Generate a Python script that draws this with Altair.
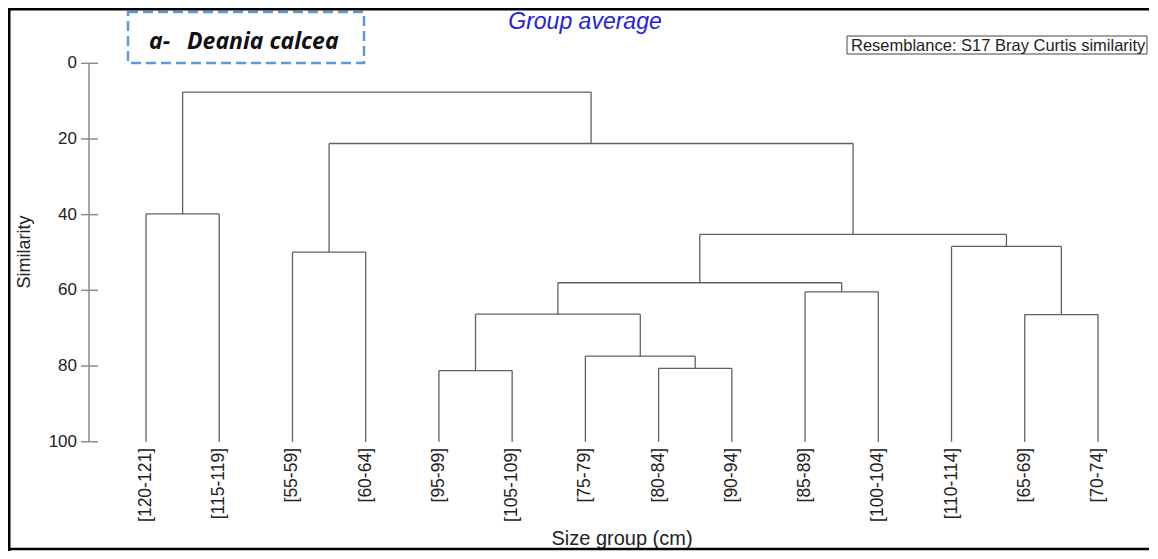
import altair as alt
import pandas as pd

# ---- data ----
leaves = ["[120-121]", "[115-119]", "[55-59]", "[60-64]", "[95-99]", "[105-109]",
          "[75-79]", "[80-84]", "[90-94]", "[85-89]", "[100-104]", "[110-114]",
          "[65-69]", "[70-74]"]
# merges: node ids 14.. in order; children refer to leaf (0-13) or earlier merge ids
merge_left = [0, 2, 4, 7, 6, 16, 9, 19, 12, 11, 21, 15, 14]
merge_right = [1, 3, 5, 8, 17, 18, 10, 20, 13, 22, 23, 24, 25]
merge_height = [39.8, 49.9, 81.2, 80.6, 77.4, 66.3, 60.4, 58.0, 66.4, 48.4, 45.2, 21.2, 7.6]
leaf_similarity = 100
y_ticks = [0, 20, 40, 60, 80, 100]

# ---- build dendrogram segments ----
pos = list(range(len(leaves)))
hgt = [leaf_similarity] * len(leaves)
segs = []
for l, r, m in zip(merge_left, merge_right, merge_height):
    segs.append({"x": pos[l], "x2": pos[l], "y": hgt[l], "y2": m})
    segs.append({"x": pos[r], "x2": pos[r], "y": hgt[r], "y2": m})
    segs.append({"x": pos[l], "x2": pos[r], "y": m, "y2": m})
    pos.append((pos[l] + pos[r]) / 2)
    hgt.append(m)
seg_df = pd.DataFrame(segs)
leaf_df = pd.DataFrame({"pos": list(range(len(leaves))), "label": leaves})
tick_df = pd.DataFrame({"v": y_ticks, "label": [str(t) for t in y_ticks]})
axis_df = pd.DataFrame({"y": [y_ticks[0]], "y2": [y_ticks[-1]]})
one = pd.DataFrame({"a": [0]})

W, H = 1141, 543
PX = 73.23
xs = alt.Scale(domain=[-138 / PX, (W - 138) / PX], nice=False, zero=False)
ys = alt.Scale(domain=[-14.61, 128.88], reverse=True, nice=False, zero=False)
FONT = "Liberation Sans"
LINE = "#606060"

dendro = alt.Chart(seg_df).mark_rule(color=LINE, strokeWidth=1.3).encode(
    x=alt.X("x:Q", scale=xs, axis=None),
    x2="x2:Q",
    y=alt.Y("y:Q", scale=ys, axis=None),
    y2="y2:Q",
)

axis_line = alt.Chart(axis_df).mark_rule(color="#8a8a8a", strokeWidth=1.5).encode(
    x=alt.value(81),
    y=alt.Y("y:Q", scale=ys, axis=None),
    y2="y2:Q",
)
axis_ticks = alt.Chart(tick_df).mark_rule(color="#8a8a8a", strokeWidth=1.5).encode(
    x=alt.value(73), x2=alt.value(90),
    y=alt.Y("v:Q", scale=ys, axis=None),
)
axis_labels = alt.Chart(tick_df).mark_text(
    align="right", baseline="middle", font=FONT, fontSize=17, color="#222222"
).encode(
    x=alt.value(69),
    y=alt.Y("v:Q", scale=ys, axis=None),
    text="label:N",
)

leaf_labels = alt.Chart(leaf_df).mark_text(
    angle=270, align="right", baseline="middle", font=FONT, fontSize=17.5, color="#222222"
).encode(
    x=alt.X("pos:Q", scale=xs, axis=None),
    y=alt.value(440),
    text="label:N",
)

def txt(s, x, y, **kw):
    base = dict(font=FONT, color="#222222")
    base.update(kw)
    return alt.Chart(one).mark_text(text=s, **base).encode(x=alt.value(x), y=alt.value(y))

y_title = txt("Similarity", 17, 244, fontSize=18, angle=270, align="center", baseline="middle")
x_title = txt("Size group (cm)", 614, 531, fontSize=20, align="center", baseline="middle")
main_title = txt("Group average", 577, 21, fontSize=23, fontStyle="italic", color="#2222dd",
                 align="center", baseline="alphabetic")
res_box = alt.Chart(one).mark_rect(filled=False, stroke="#444444", strokeWidth=1).encode(
    x=alt.value(839), x2=alt.value(1139), y=alt.value(28), y2=alt.value(46)
)
res_text = txt("Resemblance: S17 Bray Curtis similarity", 843, 37.5, fontSize=16.5,
               align="left", baseline="middle")

sp_box = alt.Chart(one).mark_rect(filled=False, stroke="#5b9bd5", strokeWidth=2.5,
                                  strokeDash=[10, 5]).encode(
    x=alt.value(120), x2=alt.value(356), y=alt.value(4), y2=alt.value(55)
)
sp_a = txt("a-", 141, 41, font="Open Sans", fontSize=23, fontStyle="italic", fontWeight="bold",
           color="#111111", align="left", baseline="alphabetic")
sp_name = txt("Deania calcea", 179, 41, font="Open Sans", fontSize=23, fontStyle="italic",
              fontWeight="bold", color="#111111", align="left", baseline="alphabetic")

frame_left = alt.Chart(one).mark_rule(color="black", strokeWidth=3).encode(
    x=alt.value(1), y=alt.value(0), y2=alt.value(H)
)
frame_top = alt.Chart(one).mark_rule(color="black", strokeWidth=3).encode(
    x=alt.value(0), x2=alt.value(W), y=alt.value(1)
)
frame_bottom = alt.Chart(one).mark_rule(color="black", strokeWidth=2.5).encode(
    x=alt.value(0), x2=alt.value(W), y=alt.value(H - 2)
)

chart = alt.layer(
    dendro, axis_line, axis_ticks, axis_labels, leaf_labels,
    y_title, x_title, main_title, res_box, res_text, sp_box, sp_a, sp_name,
    frame_left, frame_top, frame_bottom,
).resolve_scale(x="shared", y="shared").properties(
    width=W, height=H, padding=0,
    autosize=alt.AutoSizeParams(type="none"),
    background="white",
).configure_view(stroke="transparent", strokeWidth=0)

chart.save("out.html", embed_options={"renderer": "svg", "actions": False})
